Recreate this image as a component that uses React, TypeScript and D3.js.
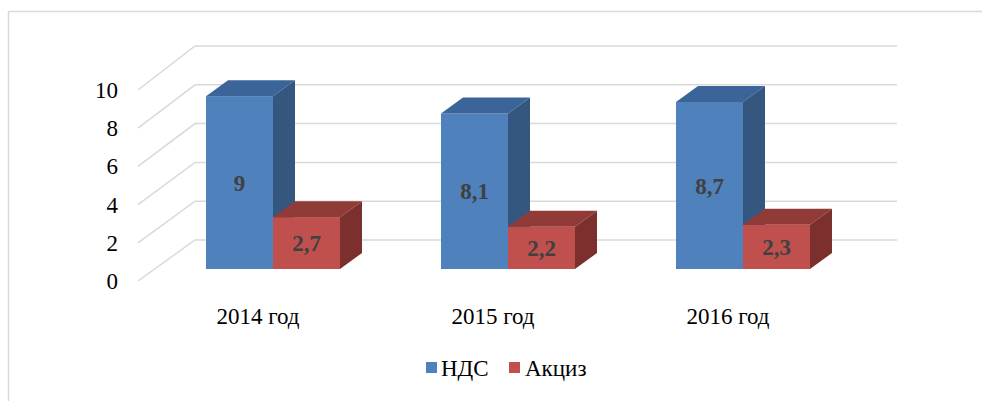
import React from 'react';
import * as d3 from 'd3';

const categories = ['2014 год', '2015 год', '2016 год'];
const series = ['НДС', 'Акциз'];
const ndsValues = [9, 8.1, 8.7];
const akcizValues = [2.7, 2.2, 2.3];
const yTicks = [0, 2, 4, 6, 8, 10];

const W = 982;
const H = 401;
const FONT = '"Liberation Serif", "Times New Roman", serif';

const COLORS: Record<string, { front: string; top: string; side: string }> = {
  'НДС': { front: '#4F81BD', top: '#3B6598', side: '#34567F' },
  'Акциз': { front: '#C0504D', top: '#913B38', side: '#7C302E' },
};

// walls of the 3D box
const FRONT_X = 138;
const BACK_X = 195;
const BACK_RIGHT = 897;
const DEPTH_DX = 22;
const DEPTH_DY = -16;

const fmt = (v: number) => String(v).replace('.', ',');

export default function App() {
  const yFront = d3.scaleLinear().domain([0, 10]).range([281, 90]);
  const yBack = d3.scaleLinear().domain([0, 10]).range([240, 46]);
  const yBar = d3.scaleLinear().domain([0, 10]).range([269, 77]);

  const x = d3.scaleBand<string>().domain(categories).range([155.5, 860.5]);
  const xs = d3.scaleBand<string>().domain(series).range([-67, 67]);

  const data = categories.map((c, i) => ({
    category: c,
    values: [
      { key: series[0], value: ndsValues[i] },
      { key: series[1], value: akcizValues[i] },
    ],
  }));

  return (
    <svg width={W} height={H} style={{ position: 'absolute', left: 0, top: 0, fontFamily: FONT }}>
      <rect x={8.5} y={11.5} width={W + 10} height={H + 10} fill="#fff" stroke="#D9D9D9" strokeWidth={1.5} />

      <g stroke="#D9D9D9" strokeWidth={1.5} fill="none">
        {yTicks.map(t => (
          <polyline
            key={t}
            points={`${FRONT_X},${yFront(t)} ${BACK_X},${yBack(t)} ${BACK_RIGHT},${yBack(t)}`}
          />
        ))}
      </g>

      <g fontSize={23} fill="#000" textAnchor="end">
        {yTicks.map(t => (
          <text key={t} x={118} y={yFront(t)} dy="0.35em">{t}</text>
        ))}
      </g>

      {data.map(d => {
        const cx = (x(d.category) ?? 0) + x.bandwidth() / 2;
        return (
          <g key={d.category}>
            {d.values.map(v => {
              const x0 = cx + (xs(v.key) ?? 0);
              const x1 = x0 + xs.bandwidth();
              const y0 = yBar(0);
              const y1 = yBar(v.value);
              const c = COLORS[v.key];
              return (
                <g key={v.key}>
                  <rect x={x0} y={y1} width={x1 - x0} height={y0 - y1} fill={c.front} />
                  <polygon
                    points={`${x0},${y1} ${x0 + DEPTH_DX},${y1 + DEPTH_DY} ${x1 + DEPTH_DX},${y1 + DEPTH_DY} ${x1},${y1}`}
                    fill={c.top}
                  />
                  <polygon
                    points={`${x1},${y1} ${x1 + DEPTH_DX},${y1 + DEPTH_DY} ${x1 + DEPTH_DX},${y0 + DEPTH_DY} ${x1},${y0}`}
                    fill={c.side}
                  />
                  <text
                    x={(x0 + x1) / 2}
                    y={(y0 + y1) / 2}
                    dy="0.35em"
                    textAnchor="middle"
                    fontSize={23}
                    fontWeight="bold"
                    fill="#404040"
                  >
                    {fmt(v.value)}
                  </text>
                </g>
              );
            })}
            <text x={cx - 15} y={316} dy="0.35em" textAnchor="middle" fontSize={23} fill="#000">
              {d.category}
            </text>
          </g>
        );
      })}

      <g fontSize={23} fill="#000">
        <rect x={426} y={362} width={11} height={11} fill={COLORS['НДС'].front} />
        <text x={441} y={376}>{series[0]}</text>
        <rect x={509} y={362} width={11} height={11} fill={COLORS['Акциз'].front} />
        <text x={525} y={376}>{series[1]}</text>
      </g>
    </svg>
  );
}
